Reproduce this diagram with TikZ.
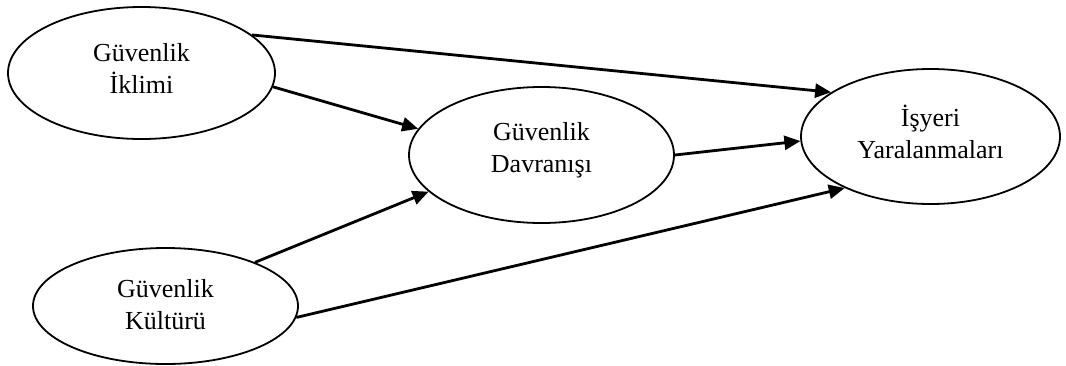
\documentclass[tikz,border=0pt]{standalone}
\usepackage{fontspec}
\setmainfont{Liberation Serif}
\usetikzlibrary{shapes.geometric,arrows.meta}
\begin{document}
\begin{tikzpicture}[x=1pt,y=-1pt,
  construct/.style={draw, ellipse, line width=1.8pt, inner sep=0pt},
  txt/.style={align=center, inner sep=0pt, font=\fontsize{26}{32}\selectfont},
  path/.style={line width=2.8pt, -{Triangle[length=16pt,width=14pt]}}]
\useasboundingbox (0,0) rectangle (1066,365);
\node[construct, minimum width=267pt, minimum height=132pt,
  label={[txt, yshift=5pt]center:Güvenlik\\İklimi}] (climate) at (141.5,73) {};
\node[construct, minimum width=265pt, minimum height=136pt,
  label={[txt, yshift=5pt]center:Güvenlik\\Davranışı}] (behav) at (541.5,155) {};
\node[construct, minimum width=259pt, minimum height=135pt,
  label={[txt, yshift=5pt]center:İşyeri\\Yaralanmaları}] (injury) at (930.5,136.5) {};
\node[construct, minimum width=265pt, minimum height=116pt,
  label={[txt, yshift=1pt]center:Güvenlik\\Kültürü}] (culture) at (165.5,306) {};
\draw[path] (climate.19.7) -- (injury.156.5);
\draw[path] (climate.-6) -- (behav.168.4);
\draw[path] (culture.26.2) -- (behav.-162.6);
\draw[path] (culture.-5.6) -- (injury.-149.8);
\draw[path] (behav.-0.9) -- (injury.182.9);
\end{tikzpicture}
\end{document}
